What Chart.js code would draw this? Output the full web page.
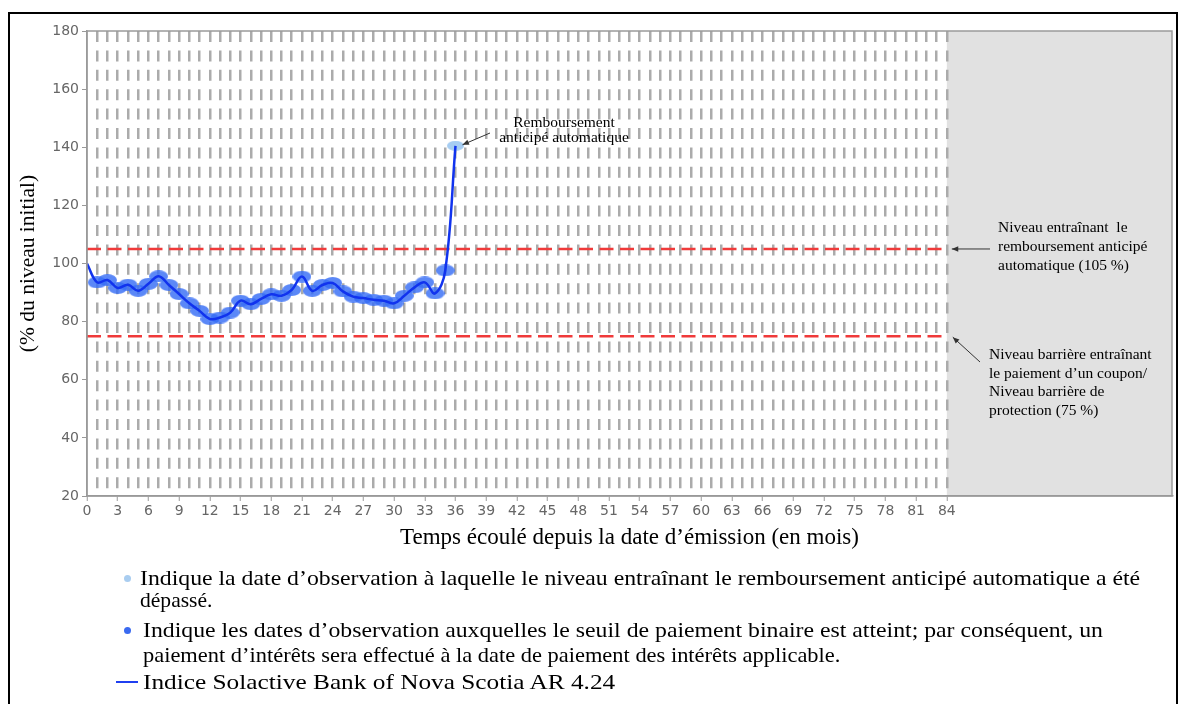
<!DOCTYPE html>
<html>
<head>
<meta charset="utf-8">
<script src="https://cdn.jsdelivr.net/npm/chart.js@4.4.0/dist/chart.umd.min.js"></script>
<style>
  html, body { margin: 0; padding: 0; background: #fff; }
  body { width: 1179px; height: 704px; position: relative; overflow: hidden;
         font-family: 'Liberation Serif', 'Times New Roman', serif; }
  #frame { position: absolute; left: 8px; top: 12px; width: 1170px; height: 760px;
           border: 2px solid #000; box-sizing: border-box; }
  #wrap { position: absolute; left: 0; top: 0; width: 1179px; height: 704px; }
  .txt { position: absolute; font-size: 22px; line-height: 24px; color: #000; white-space: nowrap;
         transform: scaleX(1.08); transform-origin: left center; }
  .dot { position: absolute; width: 7px; height: 7px; border-radius: 50%; }
  .dash { position: absolute; height: 2px; width: 22px; background: #1f3ff0; }
</style>
</head>
<body>
<div id="frame"></div>
<div id="wrap"><canvas id="autocallChart"></canvas></div>

<span class="dot" style="left:124px;top:575px;background:#a9cdf0"></span>
<div class="txt" style="left:140px;top:566px">Indique la date d’observation à laquelle le niveau entraînant le remboursement anticipé automatique a été</div>
<div class="txt" style="left:140px;top:588px;transform:scaleX(0.98)">dépassé.</div>
<span class="dot" style="left:124px;top:627px;background:#3a6af0"></span>
<div class="txt" style="left:143px;top:618px">Indique les dates d’observation auxquelles le seuil de paiement binaire est atteint; par conséquent, un</div>
<div class="txt" style="left:143px;top:643px;transform:scaleX(1.02)">paiement d’intérêts sera effectué à la date de paiement des intérêts applicable.</div>
<span class="dash" style="left:116px;top:681px"></span>
<div class="txt" style="left:143px;top:670px;transform:scaleX(1.15)">Indice Solactive Bank of Nova Scotia AR 4.24</div>

<script>
// observation months and index level (% of initial level)
const months = [0, 1, 2, 3, 4, 5, 6, 7, 8, 9, 10, 11, 12, 13, 14, 15, 16, 17, 18,
                19, 20, 21, 22, 23, 24, 25, 26, 27, 28, 29, 30, 31, 32, 33, 34, 35, 36];
const indexLevels = [100, 93.5, 94.3, 91.6, 92.7, 90.6, 93, 95.6, 92.6, 89.5, 86.3, 83.7, 80.9,
                     81.4, 83.1, 87.2, 86, 87.8, 89.4, 88.9, 90.9, 95.5, 90.6, 92.6, 93.3, 90.4,
                     88.6, 88.1, 87.5, 87.2, 86.3, 88.9, 91.8, 93.5, 89.7, 97.6, 140.5];

const autocallLevel = 105;
const barrierLevel = 75;
const termEnd = 84;
const axisEnd = 106;

const xTickLabels = [0, 3, 6, 9, 12, 15, 18, 21, 24, 27, 30, 33, 36, 39, 42, 45, 48, 51,
                     54, 57, 60, 63, 66, 69, 72, 75, 78, 81, 84];
const yTickLabels = [20, 40, 60, 80, 100, 120, 140, 160, 180];

function makeEllipse(w, h, color) {
    const c = document.createElement('canvas');
    c.width = w; c.height = h;
    const g = c.getContext('2d');
    g.fillStyle = color;
    g.beginPath();
    g.ellipse(w / 2, h / 2, w / 2, h / 2, 0, 0, Math.PI * 2);
    g.fill();
    return c;
}
const blueMarker = makeEllipse(19, 12, 'rgba(55,110,245,0.82)');
const lightMarker = makeEllipse(17, 10, '#a6cdf2');

function drawArrow(ctx, x1, y1, x2, y2) {
    const ang = Math.atan2(y2 - y1, x2 - x1);
    ctx.beginPath();
    ctx.moveTo(x1, y1);
    ctx.lineTo(x2, y2);
    ctx.stroke();
    ctx.beginPath();
    ctx.moveTo(x2, y2);
    ctx.lineTo(x2 - 7 * Math.cos(ang - 0.4), y2 - 7 * Math.sin(ang - 0.4));
    ctx.lineTo(x2 - 7 * Math.cos(ang + 0.4), y2 - 7 * Math.sin(ang + 0.4));
    ctx.closePath();
    ctx.fill();
}

const overlayPlugin = {
    id: 'overlay',
    beforeDraw(chart) {
        const { ctx, chartArea: a, scales: { x } } = chart;
        const xEnd = x.getPixelForValue(termEnd);
        ctx.save();
        ctx.fillStyle = '#e1e1e1';
        ctx.fillRect(xEnd, a.top, a.right - xEnd, a.bottom - a.top);
        ctx.restore();
    },
    afterDraw(chart) {
        const { ctx, chartArea: a, scales: { x, y } } = chart;
        ctx.save();
        ctx.strokeStyle = '#9a9a9a';
        ctx.lineWidth = 1.5;
        ctx.strokeRect(a.left, a.top, a.right - a.left, a.bottom - a.top);

        ctx.fillStyle = '#000';
        ctx.font = '15.5px "Liberation Serif", serif';
        ctx.textBaseline = 'middle';
        ctx.textAlign = 'center';
        ctx.fillText('Remboursement', 564, 123);
        ctx.fillText('anticipé automatique', 564, 138);

        ctx.textAlign = 'left';
        ['Niveau entraînant  le', 'remboursement anticipé', 'automatique (105 %)']
            .forEach((t, i) => ctx.fillText(t, 998, 228 + i * 19));
        ['Niveau barrière entraînant', 'le paiement d’un coupon/', 'Niveau barrière de', 'protection (75 %)']
            .forEach((t, i) => ctx.fillText(t, 989, 355 + i * 18.5));

        ctx.strokeStyle = '#333';
        ctx.fillStyle = '#333';
        ctx.lineWidth = 1;
        const last = months.length - 1;
        drawArrow(ctx, 490, 133, x.getPixelForValue(months[last]) + 7, y.getPixelForValue(indexLevels[last]) - 1);
        const xEnd = x.getPixelForValue(termEnd);
        drawArrow(ctx, 990, y.getPixelForValue(autocallLevel), xEnd + 5, y.getPixelForValue(autocallLevel));
        drawArrow(ctx, 980, 362, xEnd + 6, y.getPixelForValue(barrierLevel) + 1);
        ctx.restore();
    }
};

const tickFont = { family: 'DejaVu Sans', size: 14 };
const levelPoints = months.map((m, i) => ({ x: m, y: indexLevels[i] }));

new Chart(document.getElementById('autocallChart').getContext('2d'), {
    type: 'line',
    data: {
        datasets: [
            {
                label: 'Indice Solactive Bank of Nova Scotia AR 4.24',
                data: levelPoints,
                borderColor: '#1133ee',
                borderWidth: 2.5,
                tension: 0.4,
                pointRadius: 0,
                order: 0
            },
            {
                label: 'observations',
                data: levelPoints,
                showLine: false,
                pointStyle: c => c.dataIndex === months.length - 1 ? lightMarker : blueMarker,
                pointRadius: c => c.dataIndex === 0 ? 0 : 6,
                pointHoverRadius: c => c.dataIndex === 0 ? 0 : 6,
                order: 1
            },
            {
                label: 'autocall',
                data: [{ x: 0, y: autocallLevel }, { x: termEnd, y: autocallLevel }],
                borderColor: '#f03a3a',
                borderWidth: 2.5,
                borderDash: [14, 6.5],
                pointRadius: 0,
                order: 2
            },
            {
                label: 'barrier',
                data: [{ x: 0, y: barrierLevel }, { x: termEnd, y: barrierLevel }],
                borderColor: '#f03a3a',
                borderWidth: 2.5,
                borderDash: [14, 6.5],
                pointRadius: 0,
                order: 2
            }
        ]
    },
    options: {
        responsive: true,
        maintainAspectRatio: false,
        animation: false,
        layout: { padding: { left: 0, right: 4, top: 31, bottom: 148 } },
        plugins: { legend: { display: false }, tooltip: { enabled: false } },
        scales: {
            x: {
                type: 'linear',
                min: 0,
                max: axisEnd,
                afterFit: s => { s.height = 60; },
                ticks: {
                    stepSize: 1,
                    autoSkip: false,
                    maxRotation: 0,
                    padding: 2,
                    color: '#666',
                    font: tickFont,
                    callback: v => xTickLabels.includes(v) ? String(v) : ''
                },
                grid: {
                    lineWidth: 2.5,
                    tickLength: 5,
                    color: c => (c.tick && c.tick.value > 0 && c.tick.value <= termEnd) ? '#ababab' : 'rgba(0,0,0,0)',
                    tickColor: c => (c.tick && xTickLabels.includes(c.tick.value)) ? '#999' : 'rgba(0,0,0,0)',
                    tickWidth: 1
                },
                border: { display: true, color: '#999', width: 1.5, dash: [11, 8.4] },
                title: {
                    display: true,
                    text: 'Temps écoulé depuis la date d’émission (en mois)',
                    color: '#000',
                    font: { family: 'Liberation Serif', size: 23 },
                    padding: { top: 0, bottom: 4 }
                }
            },
            y: {
                min: 20,
                max: 180,
                afterFit: s => { s.width = 87; },
                afterBuildTicks: s => { s.ticks = yTickLabels.map(v => ({ value: v })); },
                ticks: { color: '#666', font: tickFont, padding: 3 },
                grid: { drawOnChartArea: false, tickLength: 5, color: '#999' },
                border: { display: true, color: '#999', width: 1.5 },
                title: {
                    display: true,
                    text: '(% du niveau initial)',
                    color: '#000',
                    font: { family: 'Liberation Serif', size: 21.5 },
                    padding: { top: 15, bottom: 0 }
                }
            }
        }
    },
    plugins: [overlayPlugin]
});
</script>
</body>
</html>
